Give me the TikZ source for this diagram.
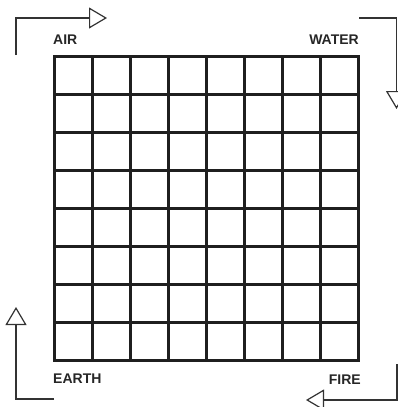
\documentclass[tikz,border=0pt]{standalone}
\usepackage{fontspec}
\setmainfont{Liberation Sans}
\usetikzlibrary{arrows.meta}

\begin{document}
\begin{tikzpicture}[
  x=1pt, y=-1pt,
  gridline/.style={line width=3.5pt, color=black!88, line cap=rect},
  flow/.style={-{Triangle[open, length=18pt, width=21pt]}, line width=1.2pt, color=black!80},
  corner/.style={font=\fontsize{14}{16}\selectfont\bfseries, color=black!85, inner sep=0pt}
]
\useasboundingbox (0,0) rectangle (398,407);

% Board
\foreach \i in {0,...,8} {
  \draw[gridline] (54.7+38*\i,56.3) -- (54.7+38*\i,360.3);
  \draw[gridline] (54.7,56.3+38*\i) -- (358.7,56.3+38*\i);
}

% Corner labels
\node[corner, anchor=base west] (air) at (53,44) {AIR};
\node[corner, anchor=base east] (water) at (359,44) {WATER};
\node[corner, anchor=base west] (earth) at (53,383.5) {EARTH};
\node[corner, anchor=base east] (fire) at (361,384) {FIRE};

% Turning points of the arrows
\coordinate (air-start) at (16,55);
\coordinate (air-bend) at (16,18);
\coordinate (air-end) at (107,18);
\coordinate (water-start) at (359,18);
\coordinate (water-bend) at (396.5,18);
\coordinate (water-end) at (396.5,109);
\coordinate (fire-start) at (397,364);
\coordinate (fire-bend) at (397,400);
\coordinate (fire-end) at (306,400);
\coordinate (earth-start) at (54,399);
\coordinate (earth-bend) at (16,399);
\coordinate (earth-end) at (16,307);

% Arrows
\draw[flow] (air-start) -- (air-bend) -- (air-end);
\draw[flow] (water-start) -- (water-bend) -- (water-end);
\draw[flow] (fire-start) -- (fire-bend) -- (fire-end);
\draw[flow] (earth-start) -- (earth-bend) -- (earth-end);

\end{tikzpicture}
\end{document}
